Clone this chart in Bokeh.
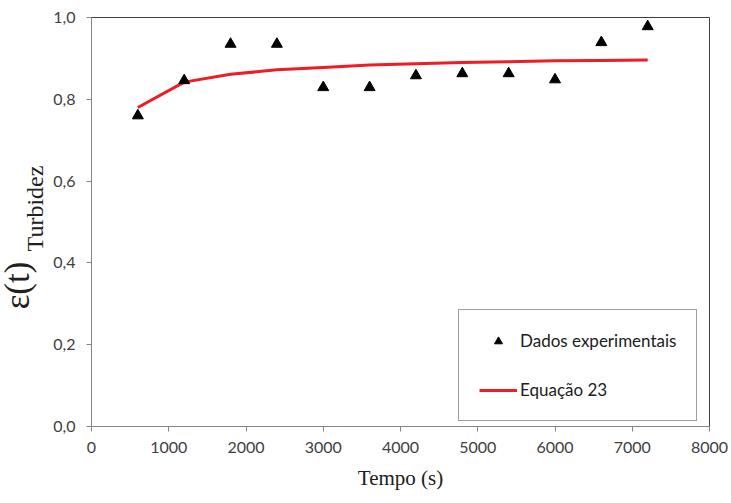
import math
from bokeh.plotting import figure
from bokeh.layouts import row
from bokeh.models import (Range1d, FixedTicker, CustomJSTickFormatter, Label,
                          Legend, LegendItem)
from bokeh.embed import file_html
from bokeh.resources import INLINE

# Data
tempo = [600, 1200, 1800, 2400, 3000, 3600, 4200, 4800, 5400, 6000, 6600, 7200]
dados_exp = [0.760, 0.846, 0.935, 0.935, 0.829, 0.829, 0.858, 0.863, 0.863, 0.848, 0.939, 0.978]
eq23 = [0.780, 0.842, 0.861, 0.872, 0.878, 0.884, 0.887, 0.890, 0.892, 0.894, 0.895, 0.896]
x_ticks = [0, 1000, 2000, 3000, 4000, 5000, 6000, 7000, 8000]
y_ticks = [0.0, 0.2, 0.4, 0.6, 0.8, 1.0]

LEFT_W = 50
H = 503
FRAME_BOTTOM = 426  # frames of the row are aligned with the main plot's frame

# Narrow strip that carries the y-axis title with its subscript
lab = figure(width=LEFT_W, height=H, output_backend="svg", toolbar_location=None,
             x_range=Range1d(0, LEFT_W), y_range=Range1d(0, H),
             x_axis_location=None, y_axis_location=None,
             min_border=0, min_border_left=0, min_border_right=0,
             min_border_top=0, min_border_bottom=0)
lab.outline_line_color = None
lab.xgrid.visible = False
lab.ygrid.visible = False
lab.background_fill_color = "white"
lab.border_fill_color = "white"
lab.add_layout(Label(x=17, y=FRAME_BOTTOM - 285, x_units="screen", y_units="screen",
                     text="ε(t)", angle=math.pi / 2,
                     text_font="Liberation Serif", text_font_size="35px",
                     text_color="#202020", text_align="center", text_baseline="middle"))
lab.add_layout(Label(x=34, y=FRAME_BOTTOM - 208, x_units="screen", y_units="screen",
                     text="Turbidez", angle=math.pi / 2,
                     text_font="Liberation Serif", text_font_size="24px",
                     text_color="#202020", text_align="center", text_baseline="middle"))

p = figure(width=731 - LEFT_W, height=H, output_backend="svg", toolbar_location=None,
           x_range=Range1d(0, 8000), y_range=Range1d(0, 1),
           min_border_left=91 - LEFT_W, min_border_right=22, min_border_top=17,
           min_border_bottom=77)
p.background_fill_color = "white"
p.border_fill_color = "white"
p.outline_line_color = "#404040"
p.outline_line_width = 1
p.xgrid.visible = False
p.ygrid.visible = False

tick_font = "Lato"
for ax in (p.xaxis[0], p.yaxis[0]):
    ax.axis_line_color = "#868686"
    ax.major_tick_line_color = "#868686"
    ax.minor_tick_line_color = None
    ax.major_tick_in = 0
    ax.major_tick_out = 5
    ax.major_label_text_font = tick_font
    ax.major_label_text_font_size = "16px"
    ax.major_label_text_color = "#404040"

p.xaxis.ticker = FixedTicker(ticks=x_ticks)
p.yaxis.ticker = FixedTicker(ticks=y_ticks)
p.yaxis.formatter = CustomJSTickFormatter(code="return tick.toFixed(1).replace('.', ',');")
p.xaxis.major_label_standoff = 10
p.yaxis.major_label_standoff = 11

p.xaxis.axis_label = "Tempo (s)"
p.xaxis.axis_label_text_font = "Liberation Serif"
p.xaxis.axis_label_text_font_size = "21px"
p.xaxis.axis_label_text_font_style = "normal"
p.xaxis.axis_label_text_color = "#202020"
p.xaxis.axis_label_standoff = 10

line_r = p.line(tempo, eq23, line_color="#ee1c25", line_width=3)
pts_r = p.scatter(tempo, dados_exp, marker="triangle", size=11,
                  fill_color="black", line_color="black")

legend = Legend(items=[LegendItem(label="Dados experimentais", renderers=[pts_r]),
                       LegendItem(label="Equação 23", renderers=[line_r])],
                location=(367, 5))
legend.label_text_font = tick_font
legend.label_text_font_size = "17px"
legend.label_text_color = "#202020"
legend.border_line_color = "#404040"
legend.border_line_width = 1.5
legend.background_fill_alpha = 1
legend.padding = 20
legend.spacing = 28
legend.glyph_width = 38
legend.glyph_height = 20
legend.label_standoff = 3
legend.margin = 0
p.add_layout(legend, "center")

layout = row(lab, p, spacing=0)
open("out.html", "w").write(file_html(layout, INLINE))
